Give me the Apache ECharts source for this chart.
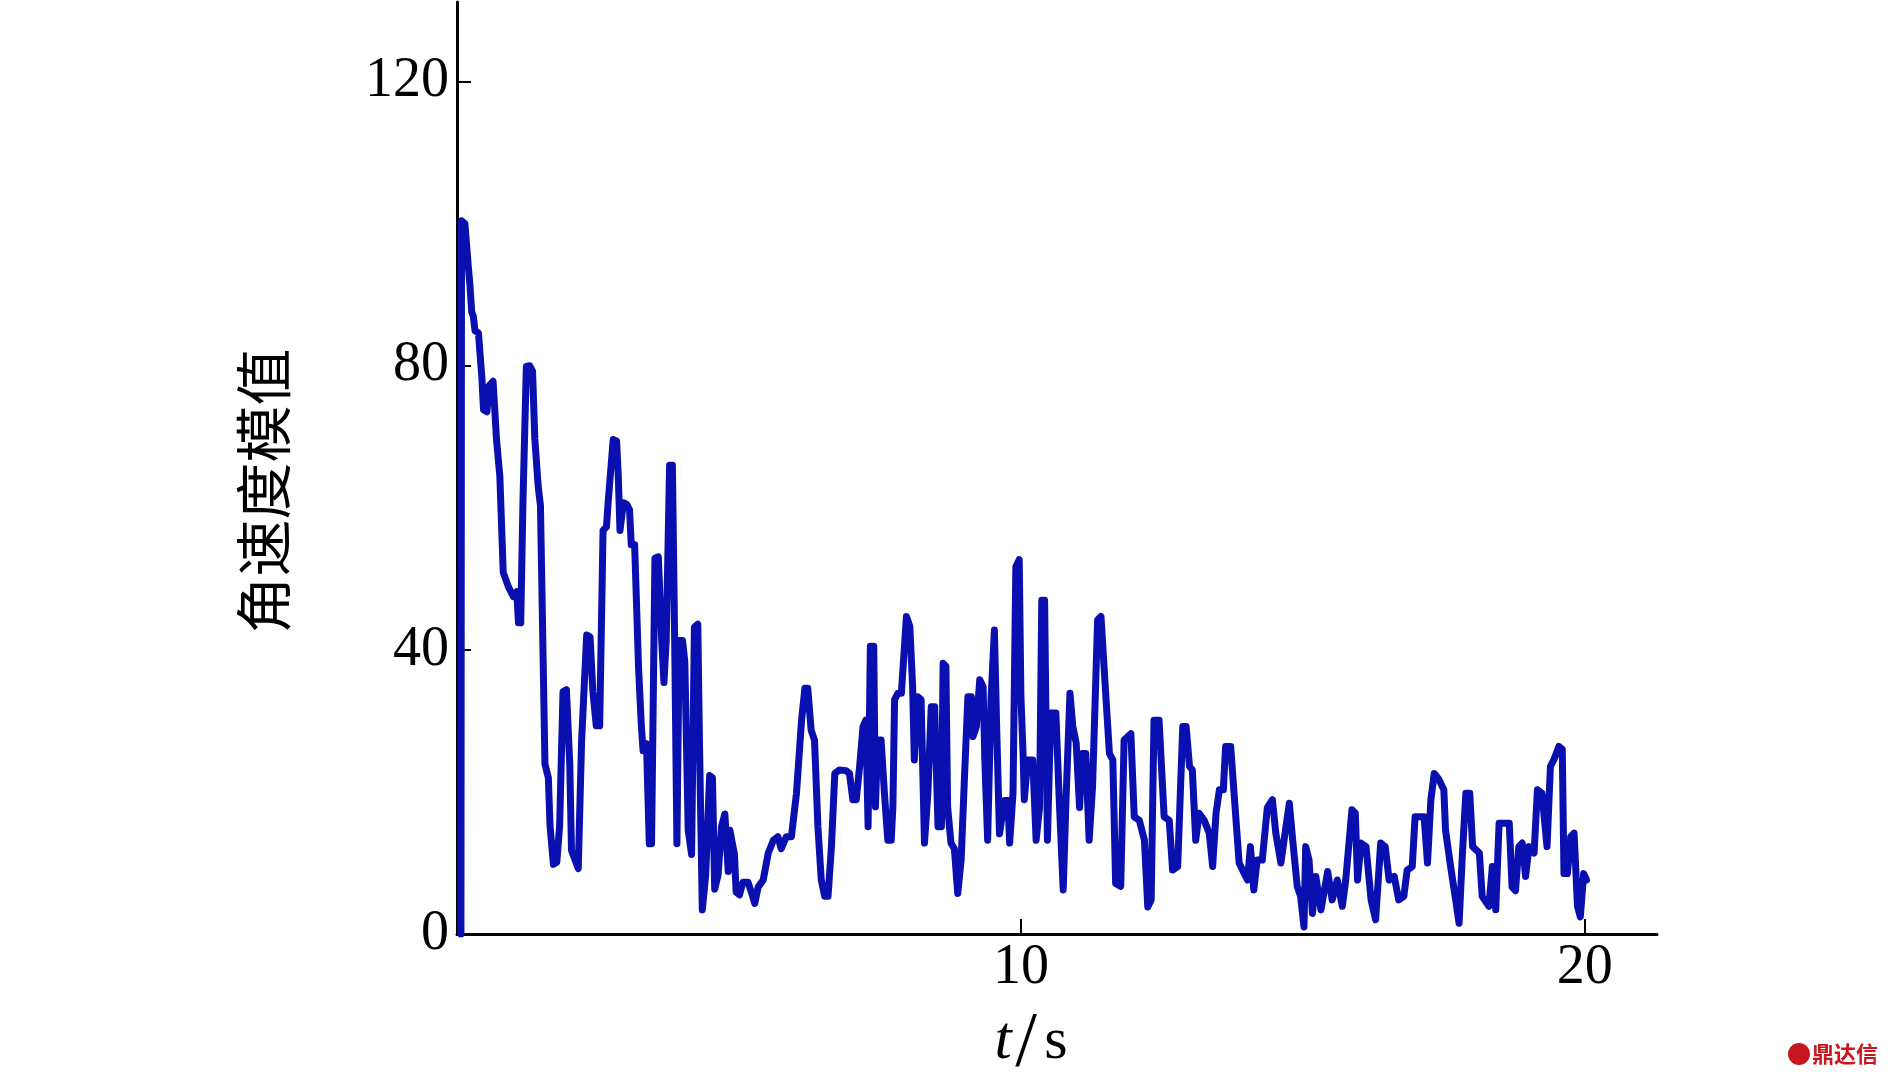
<!DOCTYPE html>
<html><head><meta charset="utf-8">
<script src="https://cdn.jsdelivr.net/npm/echarts@6/dist/echarts.min.js"></script>
<style>html,body{margin:0;padding:0;background:#fff}#c{width:1890px;height:1076px}</style>
</head><body><div id="c"></div>
<script>
// time (s)
const tValues = [0.07,0.08,0.14,0.2,0.23,0.26,0.29,0.32,0.38,0.44,0.47,0.53,0.57,0.64,0.70,0.76,0.82,0.91,1.0,1.06,1.09,1.13,1.17,1.23,1.29,1.34,1.38,1.44,1.48,1.56,1.62,1.65,1.71,1.77,1.82,1.88,1.94,2.0,2.03,2.09,2.15,2.21,2.30,2.36,2.41,2.47,2.53,2.59,2.65,2.68,2.77,2.83,2.86,2.89,2.95,3.01,3.06,3.09,3.15,3.22,3.27,3.30,3.36,3.41,3.45,3.51,3.57,3.63,3.67,3.71,3.77,3.82,3.86,3.90,3.94,4.0,4.04,4.10,4.16,4.21,4.27,4.30,4.35,4.41,4.48,4.53,4.57,4.63,4.69,4.75,4.81,4.84,4.92,4.95,5.01,5.07,5.16,5.22,5.28,5.34,5.43,5.52,5.61,5.69,5.75,5.84,5.93,6.02,6.11,6.17,6.22,6.28,6.34,6.40,6.46,6.52,6.58,6.64,6.70,6.78,6.90,6.96,7.02,7.08,7.14,7.20,7.25,7.29,7.33,7.39,7.42,7.46,7.52,7.58,7.64,7.70,7.73,7.76,7.82,7.88,7.97,8.03,8.08,8.11,8.17,8.23,8.29,8.35,8.41,8.47,8.53,8.59,8.62,8.67,8.70,8.76,8.82,8.88,8.94,9.0,9.06,9.12,9.15,9.21,9.27,9.33,9.36,9.41,9.47,9.53,9.57,9.62,9.71,9.77,9.80,9.86,9.91,9.97,10.0,10.04,10.06,10.12,10.21,10.27,10.33,10.37,10.42,10.47,10.53,10.62,10.68,10.75,10.80,10.87,10.92,10.98,11.04,11.09,11.15,11.21,11.27,11.36,11.42,11.51,11.57,11.63,11.68,11.77,11.83,11.95,12.01,12.10,12.19,12.25,12.31,12.36,12.45,12.54,12.63,12.69,12.78,12.87,12.93,12.99,13.04,13.10,13.16,13.25,13.34,13.40,13.46,13.52,13.59,13.63,13.72,13.78,13.87,13.96,14.02,14.07,14.13,14.19,14.28,14.37,14.46,14.52,14.61,14.70,14.76,14.82,14.90,14.96,15.02,15.05,15.11,15.17,15.23,15.32,15.44,15.52,15.61,15.70,15.76,15.87,15.93,15.97,16.03,16.12,16.21,16.29,16.38,16.46,16.53,16.62,16.70,16.79,16.85,16.94,16.99,17.15,17.21,17.27,17.33,17.41,17.50,17.53,17.62,17.71,17.77,17.83,17.89,17.96,18.01,18.13,18.18,18.30,18.36,18.42,18.48,18.66,18.71,18.77,18.83,18.89,18.95,19.01,19.10,19.16,19.24,19.33,19.39,19.45,19.54,19.60,19.63,19.69,19.75,19.81,19.87,19.92,19.98,20.03];
// angular velocity magnitude
const angVel = [0,100.4,100,94,91.3,87.6,86.9,84.9,84.6,78.5,73.8,73.5,77.2,77.8,69.7,64.4,50.9,48.9,47.5,48.2,43.8,43.8,61.0,79.9,80,79.2,69.7,63.0,60.3,23.9,22.0,15.2,9.8,10.1,15.2,34.1,34.4,23.9,11.8,10.5,9.2,27.3,42.1,41.8,34.1,29.3,29.3,56.8,57.3,60.7,69.6,69.4,64.5,56.8,60.7,60.5,59.7,54.8,54.8,37.4,29.2,25.8,26.8,12.7,12.7,52.9,53.1,41.3,35.4,41.3,66.0,66.0,41.3,12.7,41.3,41.3,38.3,14.6,11.2,43.2,43.6,26.8,3.4,8.3,22.3,22.0,6.3,8.3,15.1,16.9,8.8,14.6,11.2,5.9,5.5,7.3,7.3,5.9,4.3,6.6,7.6,11.4,13.2,13.7,12.0,13.7,13.7,19.8,30.1,34.6,34.6,28.7,27.3,15.1,7.6,5.3,5.3,12.3,22.6,23.1,23.0,22.6,18.9,18.9,23.6,29.2,30.1,15.1,40.5,40.5,17.9,27.3,27.3,19.8,13.2,13.2,17.9,33.0,33.9,33.9,44.7,43.3,34.8,24.5,33.4,33.0,12.8,19.8,32.0,32.0,15.1,15.1,38.1,37.7,17.9,12.8,12.0,5.7,10.4,22.2,33.4,33.4,27.8,29.2,35.8,34.8,24.5,13.2,33.0,42.8,29.2,14.1,18.8,18.8,12.8,19.8,51.7,52.7,33.5,25.0,18.9,24.5,24.5,13.2,17.8,47.0,47.0,13.2,31.1,31.1,18.9,6.2,18.9,33.9,29.2,26.9,17.8,25.4,25.4,13.2,20.7,44.2,44.7,33.0,25.4,24.5,7.1,6.7,27.3,28.2,16.5,16.0,13.2,3.8,4.8,30.1,30.1,16.5,16.0,9.0,9.5,29.2,29.2,23.6,23.1,13.2,17.0,16.0,14.2,9.5,17.0,20.3,20.3,26.4,26.4,19.8,10.0,8.5,7.6,12.3,6.2,10.4,10.4,17.8,18.9,14.2,10.0,15.1,18.4,13.2,6.7,5.3,1.0,12.3,10.4,2.9,8.1,3.4,8.8,4.8,7.6,3.9,7.6,17.5,17.0,7.6,12.8,12.3,4.8,2.0,12.8,12.3,7.6,8.1,4.8,5.3,9.0,9.5,16.5,16.5,10.0,18.9,22.6,21.8,20.3,14.6,9.5,4.8,1.5,11.4,19.8,19.8,12.3,11.4,5.3,3.9,9.5,3.4,15.6,15.6,6.6,6.1,12.3,12.8,8.1,12.3,11.4,20.3,19.8,12.3,23.6,24.5,26.4,26.0,8.5,8.5,13.7,14.2,3.9,2.4,8.5,7.6];
const yTicks = [0, 40, 80, 120];
const xTicks = [10, 20];
const yName = '角速度模值';
const xNameVar = 't';
const xNameSlash = '/';
const xNameUnit = 's';
const watermark = '鼎达信';

const chart = echarts.init(document.getElementById('c'), null, {renderer: 'canvas'});
const serif = 'Liberation Serif';
chart.setOption({
  animation: false,
  backgroundColor: '#fff',
  grid: {left: 457, right: 233, top: 2, bottom: 142, containLabel: false},
  xAxis: {
    type: 'value', min: 0, max: 21.28, interval: 10,
    axisLine: {onZero: false, lineStyle: {color: '#000', width: 3}},
    axisTick: {inside: true, length: 15, customValues: xTicks, lineStyle: {color: '#000', width: 2}},
    axisLabel: {customValues: xTicks, margin: 6, fontFamily: serif, fontSize: 56, color: '#000'},
    splitLine: {show: false}
  },
  yAxis: {
    type: 'value', min: 0, max: 131.2, interval: 40,
    axisLine: {lineStyle: {color: '#000', width: 3}},
    axisTick: {inside: true, length: 14, customValues: yTicks, lineStyle: {color: '#000', width: 2}},
    axisLabel: {customValues: yTicks, margin: 8, fontFamily: serif, fontSize: 56, color: '#000'},
    splitLine: {show: false}
  },
  series: [{
    type: 'line',
    data: tValues.map((t, i) => [t, angVel[i]]),
    symbol: 'none', showSymbol: false, clip: false,
    lineStyle: {color: '#0a0fb0', width: 7, join: 'round', cap: 'round'}
  }],
  graphic: [
    {type: 'text', x: 263, y: 491, rotation: Math.PI / 2, style: {
      text: yName, fontFamily: 'Noto Sans CJK SC', fontSize: 57, fill: '#000',
      align: 'center', verticalAlign: 'middle'}},
    {type: 'text', x: 1003, y: 1042, style: {text: xNameVar, fontFamily: serif, fontStyle: 'italic',
      fontSize: 62, fill: '#000', align: 'center', verticalAlign: 'middle'}},
    {type: 'text', x: 1026, y: 1045, style: {text: xNameSlash, fontFamily: serif,
      fontSize: 78, fill: '#000', align: 'center', verticalAlign: 'middle'}},
    {type: 'text', x: 1056, y: 1042, style: {text: xNameUnit, fontFamily: serif,
      fontSize: 60, fill: '#000', align: 'center', verticalAlign: 'middle'}},
    {type: 'circle', shape: {cx: 1799, cy: 1054, r: 11}, style: {fill: '#c8161e'}},
    {type: 'text', x: 1812, y: 1054, style: {text: watermark, fontFamily: 'Noto Sans CJK SC', fontWeight: 'bold',
      fontSize: 22, fill: '#c8161e', verticalAlign: 'middle', align: 'left'}}
  ]
});
</script></body></html>
